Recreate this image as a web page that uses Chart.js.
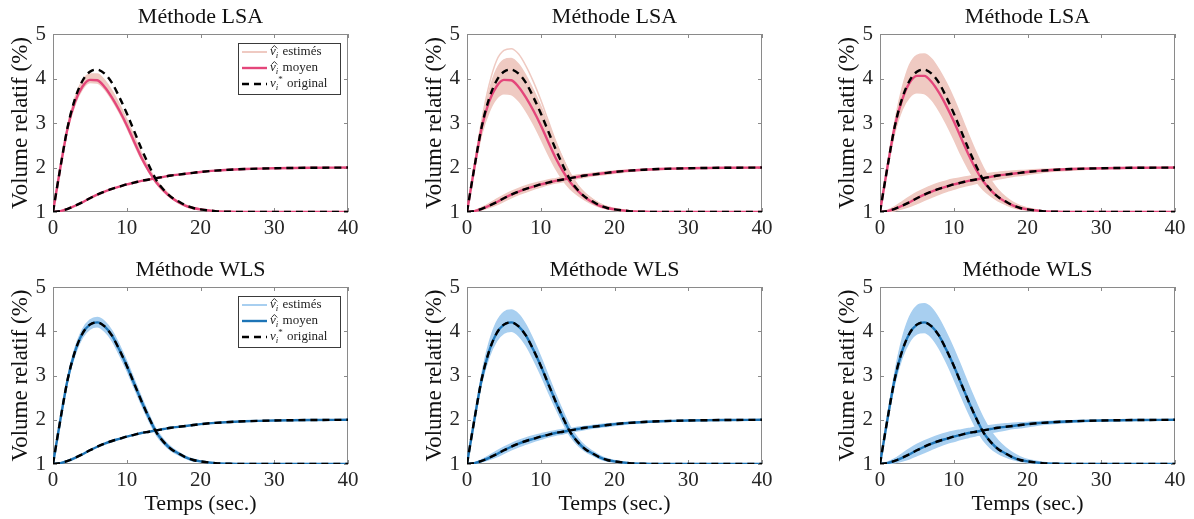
<!DOCTYPE html>
<html>
<head>
<meta charset="utf-8">
<script src="https://cdn.jsdelivr.net/npm/chart.js@4.4.1/dist/chart.umd.min.js"></script>
<style>
  html, body { margin: 0; padding: 0; background: #fff; width: 1194px; height: 519px; overflow: hidden; }
  .panel { position: absolute; }
</style>
</head>
<body>
<script>
// Time axis (sec.)
const timePoints = [0,1,2,3,4,5,6,7,8,9,10,11,12,13,14,15,16,17,18,19,20,22,24,26,28,30,35,40];

// Original curves (v_i* original)
const originalPeak = [1.00,2.00,2.92,3.55,3.95,4.15,4.20,4.11,3.90,3.58,3.22,2.82,2.42,2.05,1.72,1.50,1.34,1.24,1.15,1.09,1.06,1.02,1.005,1.0,1.0,1.0,1.0,1.0];
const originalRise = [1.00,1.02,1.07,1.14,1.22,1.31,1.39,1.46,1.52,1.57,1.62,1.66,1.70,1.73,1.76,1.79,1.82,1.84,1.86,1.88,1.90,1.93,1.95,1.965,1.975,1.983,1.994,1.999];

// Mean estimates (LSA); WLS mean sits on the original
const lsaMeanPeak = [1.00,2.00,2.90,3.48,3.82,3.97,3.96,3.81,3.57,3.28,2.95,2.58,2.22,1.92,1.67,1.48,1.33,1.22,1.14,1.09,1.06,1.02,1.005,1.0,1.0,1.0,1.0,1.0];
const lsaMeanPeakWide = [1.00,2.00,2.92,3.52,3.90,4.06,4.06,3.92,3.68,3.38,3.04,2.66,2.29,1.96,1.69,1.49,1.34,1.23,1.15,1.09,1.06,1.02,1.005,1.0,1.0,1.0,1.0,1.0];

// Spread of the individual estimates (upper / lower envelopes)
const lsa1PeakHi = [1.00,2.02,2.95,3.58,3.95,4.10,4.10,3.96,3.72,3.42,3.08,2.70,2.32,1.99,1.72,1.52,1.36,1.24,1.16,1.10,1.07,1.03,1.01,1.0,1.0,1.0,1.0,1.0];
const lsa1PeakLo = [1.00,1.98,2.86,3.42,3.76,3.91,3.90,3.76,3.52,3.23,2.90,2.53,2.18,1.89,1.64,1.46,1.31,1.21,1.13,1.08,1.05,1.02,1.0,1.0,1.0,1.0,1.0,1.0];

const lsa2PeakHi = [1.00,2.03,3.00,3.72,4.20,4.42,4.45,4.32,4.06,3.74,3.38,2.98,2.58,2.20,1.86,1.60,1.42,1.29,1.19,1.12,1.08,1.03,1.01,1.0,1.0,1.0,1.0,1.0];
const lsa2PeakLo = [1.00,1.96,2.75,3.25,3.55,3.66,3.64,3.50,3.27,2.98,2.65,2.30,1.98,1.72,1.52,1.38,1.27,1.18,1.11,1.07,1.04,1.01,1.0,1.0,1.0,1.0,1.0,1.0];
const lsa2PeakOut = [1.00,2.05,3.06,3.86,4.40,4.63,4.67,4.55,4.28,3.93,3.52,3.06,2.60,2.20,1.86,1.60,1.42,1.29,1.19,1.12,1.08,1.03,1.01,1.0,1.0,1.0,1.0,1.0];

const lsa3PeakHi = [1.00,2.04,3.02,3.78,4.30,4.52,4.55,4.44,4.20,3.90,3.55,3.15,2.74,2.35,2.00,1.72,1.50,1.34,1.22,1.14,1.09,1.03,1.01,1.0,1.0,1.0,1.0,1.0];
const lsa3PeakLo = [1.00,1.96,2.78,3.30,3.58,3.68,3.66,3.52,3.28,2.98,2.64,2.28,1.96,1.70,1.50,1.36,1.25,1.17,1.10,1.06,1.04,1.01,1.0,1.0,1.0,1.0,1.0,1.0];

const wls1PeakHi = [1.00,2.02,2.96,3.62,4.04,4.25,4.31,4.22,4.01,3.69,3.32,2.91,2.50,2.12,1.78,1.55,1.38,1.27,1.17,1.11,1.07,1.03,1.01,1.0,1.0,1.0,1.0,1.0];
const wls1PeakLo = [1.00,1.98,2.88,3.48,3.86,4.05,4.10,4.00,3.79,3.47,3.12,2.73,2.34,1.98,1.66,1.45,1.30,1.21,1.13,1.07,1.05,1.01,1.0,1.0,1.0,1.0,1.0,1.0];

const wls2PeakHi = [1.00,2.04,3.02,3.74,4.20,4.43,4.48,4.38,4.14,3.80,3.42,3.00,2.58,2.19,1.84,1.59,1.41,1.29,1.19,1.12,1.08,1.03,1.01,1.0,1.0,1.0,1.0,1.0];
const wls2PeakLo = [1.00,1.97,2.84,3.42,3.78,3.96,4.00,3.90,3.68,3.37,3.02,2.64,2.27,1.93,1.63,1.43,1.29,1.20,1.12,1.07,1.04,1.01,1.0,1.0,1.0,1.0,1.0,1.0];

const wls3PeakHi = [1.00,2.05,3.05,3.82,4.32,4.57,4.62,4.52,4.28,3.96,3.60,3.20,2.79,2.40,2.04,1.75,1.53,1.37,1.25,1.16,1.10,1.04,1.01,1.0,1.0,1.0,1.0,1.0];
const wls3PeakLo = [1.00,1.96,2.82,3.40,3.76,3.94,3.97,3.86,3.62,3.30,2.93,2.54,2.16,1.82,1.54,1.36,1.24,1.16,1.10,1.06,1.03,1.01,1.0,1.0,1.0,1.0,1.0,1.0];

const narrowRiseHi = [1.00,1.03,1.10,1.19,1.29,1.38,1.46,1.53,1.59,1.64,1.68,1.72,1.75,1.78,1.80,1.83,1.85,1.87,1.89,1.91,1.92,1.945,1.96,1.972,1.98,1.986,1.995,2.0];
const narrowRiseLo = [1.00,1.01,1.05,1.10,1.16,1.24,1.32,1.39,1.45,1.51,1.56,1.61,1.65,1.68,1.72,1.75,1.78,1.81,1.83,1.85,1.87,1.91,1.935,1.955,1.968,1.978,1.992,1.998];
const wideRiseHi = [1.00,1.04,1.12,1.23,1.34,1.44,1.52,1.59,1.65,1.70,1.74,1.77,1.80,1.83,1.85,1.87,1.89,1.91,1.92,1.93,1.94,1.96,1.97,1.98,1.985,1.99,1.997,2.0];
const wideRiseLo = [1.00,1.005,1.03,1.07,1.12,1.19,1.26,1.33,1.40,1.46,1.51,1.56,1.60,1.64,1.67,1.71,1.74,1.77,1.80,1.82,1.84,1.89,1.92,1.945,1.96,1.972,1.99,1.997];

const xTicks = [0, 10, 20, 30, 40];
const yTicks = [1, 2, 3, 4, 5];
const legendLabels = [' estimés', ' moyen', ' original'];

// Colors
const pinkLight = '#efcac2';
const pinkDark = '#e4467a';
const blueLight = '#a8cff0';
const blueDark = '#1d74b6';
const serif = '"Liberation Serif", "DejaVu Serif", serif';

const panels = [
  { title: 'Méthode LSA', left: 0,   top: 0,   row: 0, legend: true,  light: pinkLight, dark: pinkDark,
    meanPeak: lsaMeanPeak, bands: [[lsa1PeakHi, lsa1PeakLo]], extras: [] },
  { title: 'Méthode LSA', left: 414, top: 0,   row: 0, legend: false, light: pinkLight, dark: pinkDark,
    meanPeak: lsaMeanPeak, bands: [[lsa2PeakHi, lsa2PeakLo], [narrowRiseHi, narrowRiseLo]], extras: [lsa2PeakOut] },
  { title: 'Méthode LSA', left: 827, top: 0,   row: 0, legend: false, light: pinkLight, dark: pinkDark,
    meanPeak: lsaMeanPeakWide, bands: [[lsa3PeakHi, lsa3PeakLo], [wideRiseHi, wideRiseLo]], extras: [] },
  { title: 'Méthode WLS', left: 0,   top: 253, row: 1, legend: true,  light: blueLight, dark: blueDark,
    meanPeak: originalPeak, bands: [[wls1PeakHi, wls1PeakLo]], extras: [] },
  { title: 'Méthode WLS', left: 414, top: 253, row: 1, legend: false, light: blueLight, dark: blueDark,
    meanPeak: originalPeak, bands: [[wls2PeakHi, wls2PeakLo], [narrowRiseHi, narrowRiseLo]], extras: [] },
  { title: 'Méthode WLS', left: 827, top: 253, row: 1, legend: false, light: blueLight, dark: blueDark,
    meanPeak: originalPeak, bands: [[wls3PeakHi, wls3PeakLo], [wideRiseHi, wideRiseLo]], extras: [] }
];

function toPoints(ys) {
  return timePoints.map((t, i) => ({ x: t, y: ys[i] }));
}

function buildDatasets(p) {
  const common = { pointRadius: 0, cubicInterpolationMode: 'monotone' };
  const ds = [];
  p.bands.forEach(([hi, lo]) => {
    const idx = ds.length;
    ds.push({ ...common, data: toPoints(hi), borderColor: p.light, backgroundColor: p.light, borderWidth: 1.5, fill: idx + 1, order: 3 });
    ds.push({ ...common, data: toPoints(lo), borderColor: p.light, borderWidth: 1.5, fill: false, order: 3 });
  });
  p.extras.forEach(ys => {
    ds.push({ ...common, data: toPoints(ys), borderColor: p.light, borderWidth: 1.5, fill: false, order: 3 });
  });
  ds.push({ ...common, data: toPoints(p.meanPeak), borderColor: p.dark, borderWidth: 2.4, fill: false, order: 1 });
  ds.push({ ...common, data: toPoints(originalRise), borderColor: p.dark, borderWidth: 2.4, fill: false, order: 1 });
  ds.push({ ...common, data: toPoints(originalPeak), borderColor: '#000', borderWidth: 2.4, borderDash: [7, 5], fill: false, order: 0 });
  ds.push({ ...common, data: toPoints(originalRise), borderColor: '#000', borderWidth: 2.4, borderDash: [7, 5], fill: false, order: 0 });
  return ds;
}

// axes box with inward ticks, MATLAB style
const frame = {
  id: 'frame',
  beforeDatasetsDraw(chart) {
    const { ctx, chartArea: a, scales: { x, y } } = chart;
    ctx.save();
    ctx.strokeStyle = '#8a8a8a';
    ctx.lineWidth = 1;
    ctx.strokeRect(Math.round(a.left) + 0.5, Math.round(a.top) + 0.5, Math.round(a.width) - 1, Math.round(a.height) - 1);
    ctx.beginPath();
    xTicks.forEach(v => {
      const px = Math.round(x.getPixelForValue(v)) + 0.5;
      ctx.moveTo(px, a.bottom); ctx.lineTo(px, a.bottom - 4);
      ctx.moveTo(px, a.top); ctx.lineTo(px, a.top + 4);
    });
    yTicks.forEach(v => {
      const py = Math.round(y.getPixelForValue(v)) + 0.5;
      ctx.moveTo(a.left, py); ctx.lineTo(a.left + 4, py);
      ctx.moveTo(a.right, py); ctx.lineTo(a.right - 4, py);
    });
    ctx.stroke();
    ctx.restore();
  }
};

// panel title, centred over the plot box
const panelTitle = {
  id: 'panelTitle',
  afterDraw(chart, args, opts) {
    const { ctx, chartArea: a } = chart;
    ctx.save();
    ctx.fillStyle = '#111';
    ctx.font = '22px ' + serif;
    ctx.textAlign = 'center';
    ctx.textBaseline = 'middle';
    ctx.fillText(opts.text, (a.left + a.right) / 2, a.top - 17);
    ctx.restore();
  }
};

function drawSymbol(ctx, x, y, hat) {
  ctx.font = 'italic 13px ' + serif;
  ctx.textAlign = 'left';
  ctx.fillText('v', x, y);
  const vw = ctx.measureText('v').width;
  if (hat) {
    ctx.save();
    ctx.beginPath();
    ctx.strokeStyle = '#222';
    ctx.lineWidth = 0.9;
    ctx.moveTo(x + 1.5, y - 3.5);
    ctx.lineTo(x + vw / 2 + 1.5, y - 6.5);
    ctx.lineTo(x + vw + 1.5, y - 3.5);
    ctx.stroke();
    ctx.restore();
  }
  ctx.font = 'italic 9px ' + serif;
  ctx.fillText('i', x + vw, y + 4);
  let w = vw + ctx.measureText('i').width;
  if (!hat) {
    ctx.font = '9px ' + serif;
    ctx.fillText('*', x + w, y - 4);
    w += ctx.measureText('*').width;
  }
  return w;
}

const legendBox = {
  id: 'legendBox',
  afterDraw(chart, args, opts) {
    if (!opts.show) return;
    const { ctx, chartArea: a } = chart;
    const w = 102, h = 51;
    const x0 = Math.round(a.right - 8 - w), y0 = Math.round(a.top + 9);
    const styles = [
      { color: opts.light, width: 2, dash: [] },
      { color: opts.dark, width: 2.4, dash: [] },
      { color: '#000', width: 2.4, dash: [7, 5] }
    ];
    ctx.save();
    ctx.fillStyle = '#fff';
    ctx.fillRect(x0, y0, w, h);
    ctx.strokeStyle = '#3a3a3a';
    ctx.lineWidth = 1;
    ctx.strokeRect(x0 + 0.5, y0 + 0.5, w, h);
    styles.forEach((s, i) => {
      const yy = y0 + 9 + i * 16;
      ctx.beginPath();
      ctx.strokeStyle = s.color;
      ctx.lineWidth = s.width;
      ctx.setLineDash(s.dash);
      ctx.moveTo(x0 + 4, yy);
      ctx.lineTo(x0 + 29, yy);
      ctx.stroke();
      ctx.setLineDash([]);
      ctx.fillStyle = '#222';
      ctx.textBaseline = 'middle';
      const sw = drawSymbol(ctx, x0 + 32, yy, i < 2);
      ctx.font = '13px ' + serif;
      ctx.textAlign = 'left';
      ctx.fillText(legendLabels[i], x0 + 33 + sw, yy);
    });
    ctx.restore();
  }
};

panels.forEach(p => {
  const height = p.row === 0 ? 252 : 266;
  const xHeight = p.row === 0 ? 40 : 55;
  const div = document.createElement('div');
  div.className = 'panel';
  div.style.left = p.left + 'px';
  div.style.top = p.top + 'px';
  const canvas = document.createElement('canvas');
  canvas.width = 401;
  canvas.height = height;
  canvas.style.width = '401px';
  canvas.style.height = height + 'px';
  div.appendChild(canvas);
  document.body.appendChild(div);

  new Chart(canvas, {
    type: 'line',
    data: { datasets: buildDatasets(p) },
    options: {
      responsive: false,
      devicePixelRatio: 1,
      animation: false,
      layout: { padding: { left: 0, right: 53, top: 34, bottom: 0 } },
      plugins: {
        legend: { display: false },
        tooltip: { enabled: false },
        title: { display: false },
        panelTitle: { text: p.title },
        legendBox: { show: p.legend, light: p.light, dark: p.dark }
      },
      scales: {
        x: {
          type: 'linear',
          min: 0,
          max: 40,
          afterBuildTicks: s => { s.ticks = xTicks.map(v => ({ value: v })); },
          afterFit: s => { s.height = xHeight; },
          grid: { display: false, drawTicks: false },
          border: { display: false },
          ticks: { color: '#262626', padding: 4, maxRotation: 0, font: { family: serif, size: 21 } },
          title: {
            display: p.row === 1,
            text: 'Temps (sec.)',
            color: '#111',
            font: { family: serif, size: 22 },
            padding: { top: 0, bottom: 2 }
          }
        },
        y: {
          min: 1,
          max: 5,
          afterBuildTicks: s => { s.ticks = yTicks.map(v => ({ value: v })); },
          afterFit: s => { s.width = 53; },
          grid: { display: false, drawTicks: false },
          border: { display: false },
          ticks: { color: '#262626', padding: 7, font: { family: serif, size: 21 } },
          title: {
            display: true,
            text: 'Volume relatif (%)',
            color: '#111',
            font: { family: serif, size: 23 },
            padding: { top: 7, bottom: 0 }
          }
        }
      }
    },
    plugins: [frame, panelTitle, legendBox]
  });
});
</script>
</body>
</html>
